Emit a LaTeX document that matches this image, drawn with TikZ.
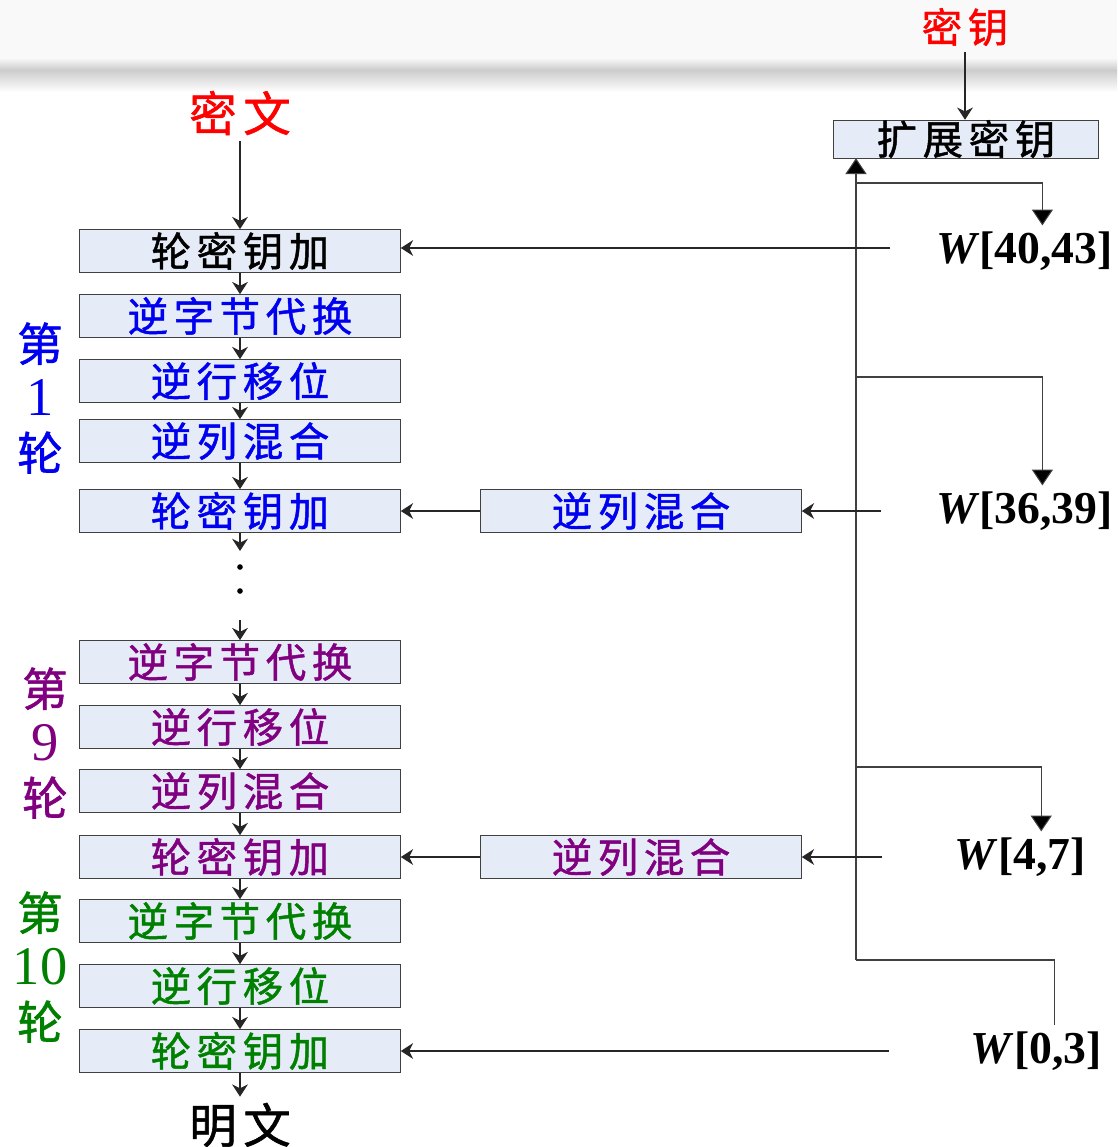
\documentclass[tikz,border=0pt]{standalone}
\usepackage{fontspec}
\setmainfont{Liberation Serif}
\newfontfamily\cjk[LetterSpace=14,FakeBold=1.2]{Noto Sans CJK SC}
\usetikzlibrary{arrows.meta,positioning}
\definecolor{boxfill}{RGB}{230,236,247}
\definecolor{rdone}{RGB}{0,0,240}
\definecolor{rdnine}{RGB}{128,0,128}
\definecolor{rdten}{RGB}{0,128,0}

\begin{document}
\begin{tikzpicture}[x=0.02cm, y=-0.02cm,
    box/.style={rectangle, draw=black!75, fill=boxfill, minimum width=6.42cm, minimum height=0.86cm, inner sep=0pt, font=\cjk\fontsize{23}{23}\selectfont},
    flow/.style={-{Stealth[length=7pt,width=9pt]}, black!85, line width=0.6pt},
    feed/.style={-{Triangle[length=9pt,width=12pt,fill=black]}, black!75, line width=0.6pt},
    wire/.style={black!75, line width=0.6pt},
    wlabel/.style={font=\fontsize{26}{26}\selectfont\bfseries, anchor=east, inner xsep=0pt},
    roundlabel/.style={font=\cjk\fontsize{26}{31}\selectfont, align=center},
    roundnum/.style={font=\rmfamily\fontsize{31}{31}\selectfont}]
    \useasboundingbox (0,0) rectangle (1117,1147);
    \fill[white] (0,0) rectangle (1117,1147);
    \fill[gray!5] (0,0) rectangle (1117,58);
    \shade[top color=gray!5, bottom color=gray!40] (0,58) rectangle (1117,70);
    \shade[top color=gray!40, bottom color=white] (0,70) rectangle (1117,92);

    \node[font=\cjk\fontsize{27}{27}\selectfont, text=red] (cipher) at (240,113) {密文};
    \node[box] (ark1) at (240,251) {轮密钥加};
    \node[box, text=rdone] (isb1) at (240,316) {逆字节代换};
    \node[box, text=rdone] (isr1) at (240,381) {逆行移位};
    \node[box, text=rdone] (imc1) at (240,441) {逆列混合};
    \node[box, text=rdone] (ark2) at (240,511) {轮密钥加};
    \node[box, text=rdnine] (isb9) at (240,662) {逆字节代换};
    \node[box, text=rdnine] (isr9) at (240,727) {逆行移位};
    \node[box, text=rdnine] (imc9) at (240,791) {逆列混合};
    \node[box, text=rdnine] (ark9) at (240,857) {轮密钥加};
    \node[box, text=rdten] (isb10) at (240,921) {逆字节代换};
    \node[box, text=rdten] (isr10) at (240,986) {逆行移位};
    \node[box, text=rdten] (ark10) at (240,1051) {轮密钥加};
    \node[font=\cjk\fontsize{27}{27}\selectfont] (plain) at (240,1125) {明文};

    \node[roundlabel, text=rdone] (rd1) at (40,398) {第\\{\rmfamily\fontsize{31}{31}\selectfont 1}\\轮};
    \node[roundlabel, text=rdnine] (rd9) at (45,743) {第\\{\rmfamily\fontsize{31}{31}\selectfont 9}\\轮};
    \node[roundlabel, text=rdten] (rd10) at (40,967) {第\\{\rmfamily\fontsize{31}{31}\selectfont 10}\\轮};

    \node[font=\cjk\fontsize{23}{23}\selectfont, text=red] (key) at (965,27) {密钥};
    \node[box, minimum width=5.3cm, minimum height=0.72cm] (expand) at (966,139) {扩展密钥};
    \node[box, text=rdone] (imcA) at (641,511) {逆列混合};
    \node[box, text=rdnine] (imcB) at (641,857) {逆列混合};

    \node[wlabel] (w40) at (1113,251) {\textit{W}[40,43]};
    \node[wlabel] (w36) at (1113,511) {\textit{W}[36,39]};
    \node[wlabel] (w4) at (1086,857) {\textit{W}[4,7]};
    \node[wlabel] (w0) at (1102,1051) {\textit{W}[0,3]};

    \coordinate (trunk) at (856,960);
    \coordinate (k40) at (890,248);
    \coordinate (k36) at (881,511);
    \coordinate (k4) at (882,857);
    \coordinate (k0) at (889,1051);
    \coordinate (gapa) at (240,551);
    \coordinate (gapb) at (240,620);

    \draw[flow] (cipher) -- (ark1);
    \foreach \a/\b in {ark1/isb1, isb1/isr1, isr1/imc1, imc1/ark2, isb9/isr9, isr9/imc9, imc9/ark9, ark9/isb10, isb10/isr10, isr10/ark10, ark10/plain}
        \draw[flow] (\a) -- (\b);
    \draw[flow] (ark2) -- (gapa);
    \draw[flow] (gapb) -- (isb9);
    \fill (240,567) circle (1.6pt);
    \fill (240,591) circle (1.6pt);

    \draw[flow] (key) -- (key |- expand.north);
    \draw[feed] (trunk) -- (trunk |- expand.south);
    \draw[feed] (856,183) -| ([xshift=0.36cm]w40.north);
    \draw[feed] (856,377) -| ([xshift=0.36cm]w36.north);
    \draw[feed] (856,767) -| ([xshift=0.42cm]w4.north);
    \draw[wire] (trunk) -| ([xshift=0.36cm]w0.north);

    \draw[flow] (k40) -- (k40 -| ark1.east);
    \draw[flow] (k36) -- (imcA);
    \draw[flow] (imcA) -- (ark2);
    \draw[flow] (k4) -- (imcB);
    \draw[flow] (imcB) -- (ark9);
    \draw[flow] (k0) -- (ark10);
\end{tikzpicture}
\end{document}
